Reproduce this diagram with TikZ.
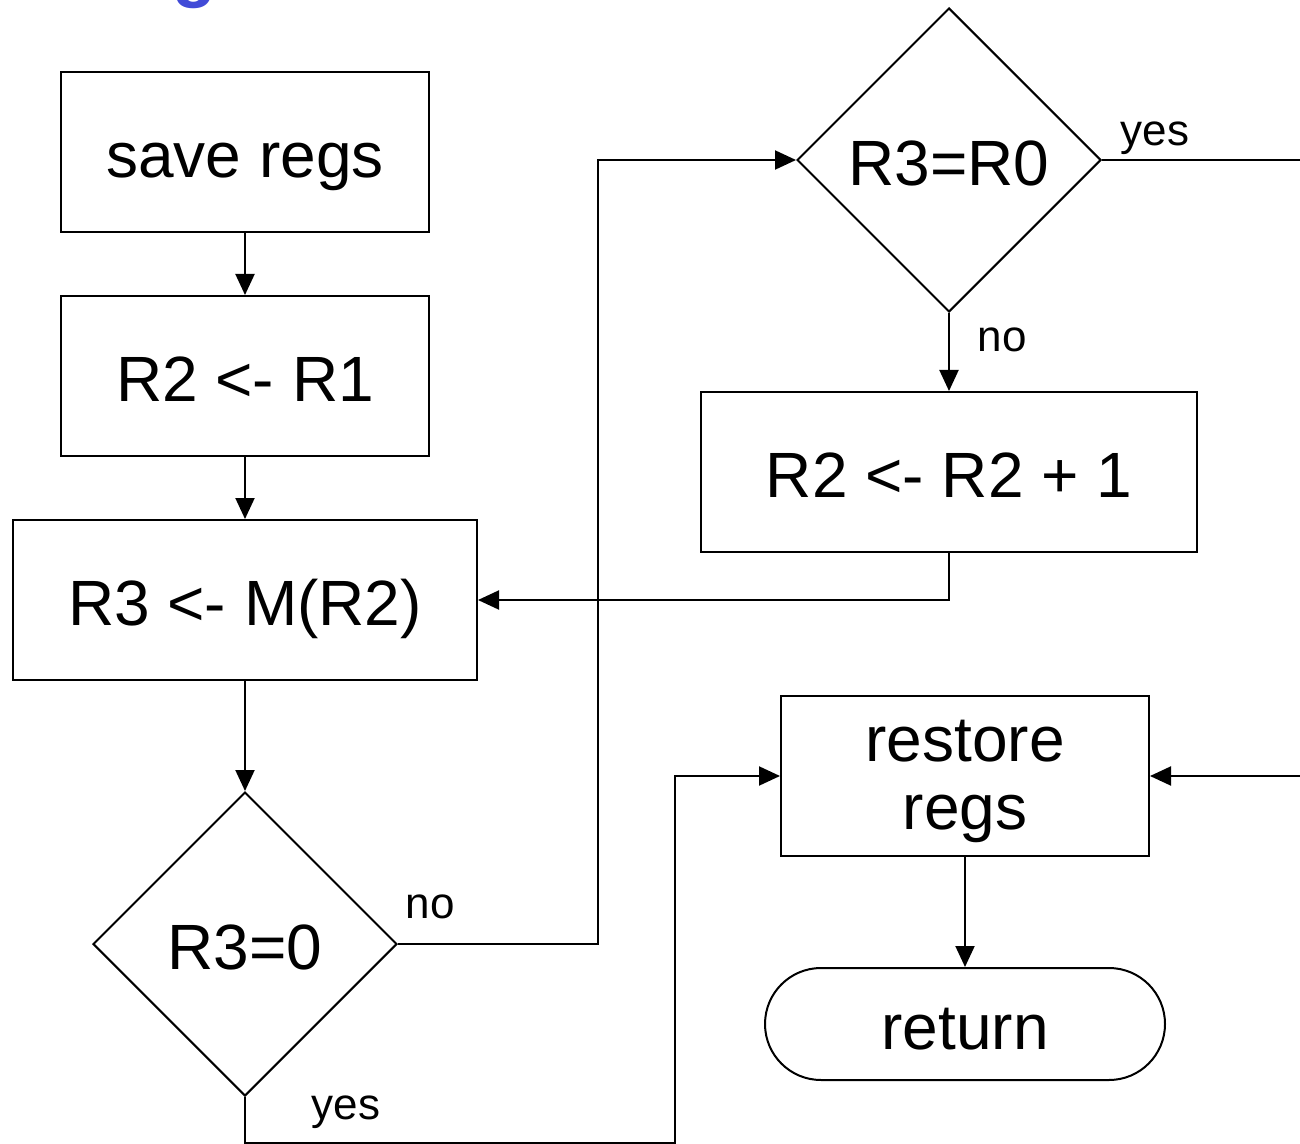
\documentclass[tikz,border=0pt]{standalone}
\usepackage{fontspec}
\setmainfont{Liberation Sans}
\usetikzlibrary{arrows.meta}
\usetikzlibrary{shapes.geometric}
\usetikzlibrary{shapes.misc}
\definecolor{titleblue}{RGB}{65,75,215}

\begin{document}
\begin{tikzpicture}[x=0.5pt, y=-0.5pt, line width=1pt,
        box/.style={draw, rectangle, minimum width=184pt, minimum height=80pt, inner sep=0pt,
            text height=28pt, text depth=2.5pt, align=center, font=\fontsize{32}{34}\selectfont},
        decision/.style={draw, diamond, minimum width=152pt, minimum height=152pt, inner sep=0pt,
            text height=28pt, text depth=2.5pt, font=\fontsize{32}{34}\selectfont},
        term/.style={draw, rounded rectangle, minimum width=200pt, minimum height=56pt, inner sep=0pt,
            text height=28pt, text depth=2.5pt, font=\fontsize{32}{34}\selectfont},
        flow/.style={-{Triangle[length=10.5pt, width=9.5pt]}},
        tag/.style={inner sep=0pt, font=\fontsize{22}{26}\selectfont}]
        \useasboundingbox (0, 0) rectangle (1300, 1144);

        % cut-off title
        \node (title) [anchor=base, inner sep=0pt, text=titleblue, font=\fontsize{36}{40}\selectfont\bfseries] at (194, -6) {g};

        % left column
        \node (save) [box] at (245, 152) {save regs};
        \node (copy) [box] at (245, 376) {R2 <- R1};
        \node (load) [box, minimum width=232pt] at (245, 600) {R3 <- M(R2)};
        \node (zero) [decision] at (245, 944) {R3=0};

        % right column
        \node (match) [decision] at (949, 160) {R3=R0};
        \node (incr) [box, minimum width=248pt] at (949, 472) {R2 <- R2 + 1};
        \node (restore) [box, text height=53pt, text depth=0pt] at (965, 776) {restore\\regs};
        \node (ret) [term] at (965, 1024) {return};

        \coordinate (exit) at (1300, 160);
        \coordinate (entry) at (1300, 776);

        \draw[flow] (save) -- (copy);
        \draw[flow] (copy) -- (load);
        \draw[flow] (load) -- (zero);
        \draw[flow] (zero.east) -- ++(200, 0) |- (match.west);
        \draw[flow] (zero.south) -- ++(0, 46) -- ++(430, 0) |- (restore.west);
        \draw (match.east) -- (exit);
        \draw[flow] (match.south) -- (incr.north);
        \draw[flow] (incr.south) |- (load.east);
        \draw[flow] (entry) -- (restore.east);
        \draw[flow] (restore) -- (ret);

        \node (zerono) [tag] at (430, 907) {no};
        \node (zeroyes) [tag] at (346, 1112) {yes};
        \node (matchyes) [tag] at (1155, 138) {yes};
        \node (matchno) [tag] at (1002, 340) {no};
    \end{tikzpicture}
\end{document}
